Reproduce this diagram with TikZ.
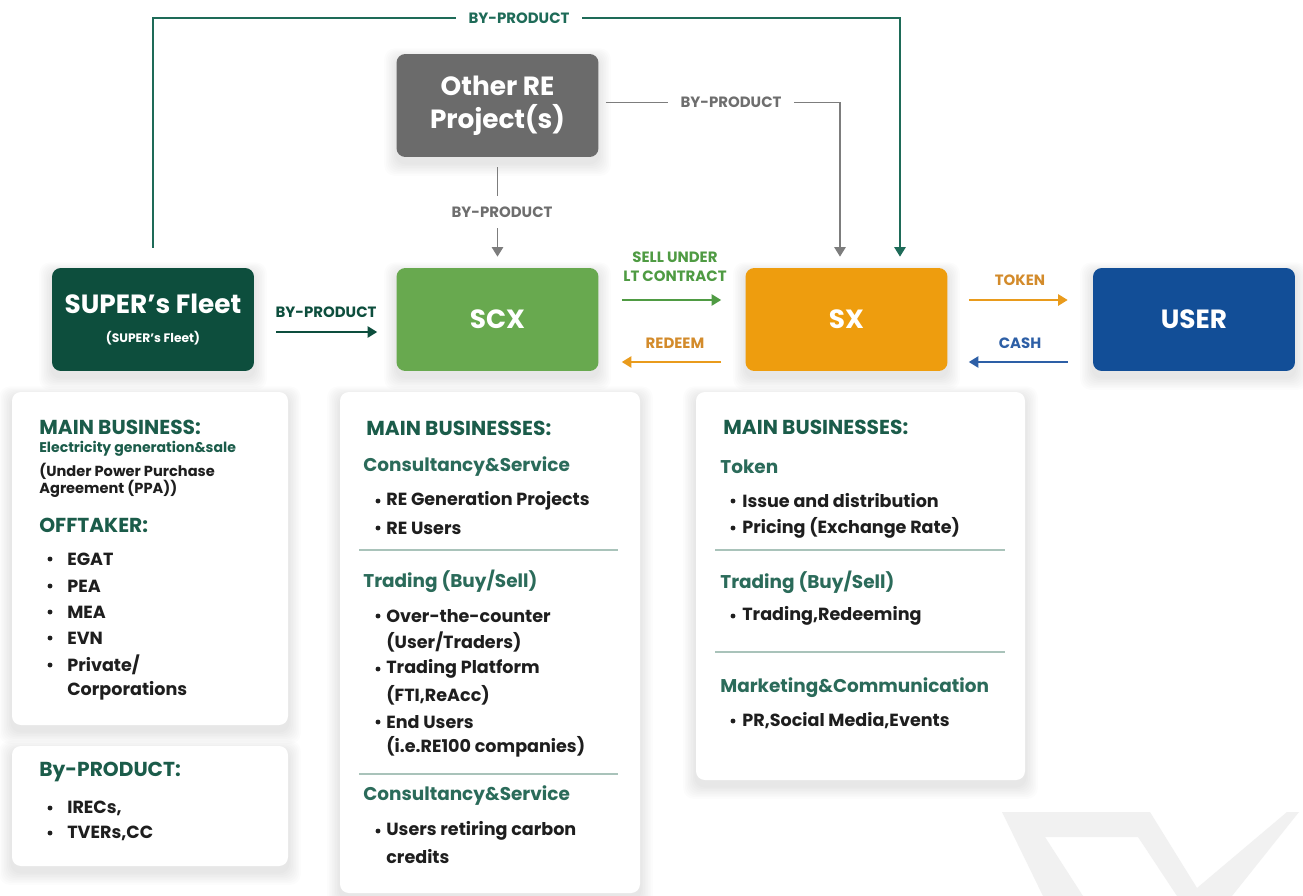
\documentclass[tikz,border=0pt]{standalone}
\usepackage{fontspec}
\setmainfont{Poppins}
\usetikzlibrary{arrows.meta,calc}
\definecolor{hdgreen}{HTML}{1B5C4A}
\definecolor{subgreen}{HTML}{2B6B5A}
\definecolor{itemtext}{HTML}{1E1E1E}
\definecolor{divcol}{HTML}{A9C3BA}
\definecolor{fleetc}{HTML}{0D4E3D}
\definecolor{otherc}{HTML}{6B6B6B}
\definecolor{scxc}{HTML}{68A94F}
\definecolor{sxc}{HTML}{EE9D0E}
\definecolor{userc}{HTML}{124E97}
\definecolor{topline}{HTML}{1E6B58}
\definecolor{grayline}{HTML}{7D7D7D}
\definecolor{graylabel}{HTML}{6E6E6E}
\definecolor{sellgreen}{HTML}{4F9B43}
\definecolor{orangec}{HTML}{E99B1C}
\definecolor{orangelabel}{HTML}{D38B2B}
\definecolor{cashc}{HTML}{2D5FA6}
\definecolor{wmark}{HTML}{F1F1F1}
\tikzset{
 bigbox/.style={rounded corners=5pt, minimum width=4.04cm, minimum height=2.06cm, inner sep=0pt, text=white, align=center, font=\fontsize{15}{19}\selectfont\bfseries},
 cardbox/.style={fill=white, rounded corners=5pt},
 conn/.style={line width=1pt, -{Triangle[width=6.5pt,length=5.5pt]}},
 flabel/.style={font=\fontsize{8.5}{11}\selectfont\bfseries, inner sep=1pt, align=center},
 gaplabel/.style={flabel, fill=white, inner xsep=7pt},
 head/.style={anchor=west, inner sep=0pt, text=hdgreen, font=\fontsize{11.5}{13}\selectfont\bfseries},
 subh/.style={anchor=west, inner sep=0pt, text=subgreen, font=\fontsize{10.5}{12}\selectfont\bfseries},
 item/.style={anchor=west, inner sep=0pt, text=itemtext, font=\fontsize{10}{12}\selectfont\bfseries},
 divider/.style={draw=divcol, line width=0.8pt},
}
\newcommand\bitem[5]{\fill[itemtext] (#1,#3) circle (1.4pt); \node[item] (#5) at (#2,#3) {#4};}
\newcommand\softshadow[4]{\foreach \s in {1,...,8}{\fill[black,opacity=0.012,rounded corners=6pt] (#1-\s*1.6,#2-\s*1.2+4) rectangle (#3+\s*1.6,#4+\s*1.6+6);}}
\begin{document}
\begin{tikzpicture}[x=0.02cm,y=-0.02cm]
\useasboundingbox (0,0) rectangle (1303,896);
\fill[white] (0,0) rectangle (1303,896);

% watermark
\fill[wmark] (1002,812) -- (1150,812) -- (1197,888) -- (1287,812) -- (1299,812) -- (1232,896) -- (1177,896) -- (1138,837) -- (1045,837) -- (1083,896) -- (1043,896) -- cycle;

% shadows
\softshadow{52}{268}{254}{371}
\softshadow{397}{268}{598}{371}
\softshadow{746}{268}{947}{371}
\softshadow{1093}{268}{1295}{371}
\softshadow{397}{54}{598}{157}
\softshadow{12}{392}{288}{725}
\softshadow{12}{746}{288}{866}
\softshadow{340}{392}{640}{893}
\softshadow{696}{392}{1025}{780}

% main boxes
\node[bigbox, fill=otherc] (other) at (497.5,105.5) {Other RE\\Project(s)};
\node[bigbox, fill=fleetc] (fleet) at (153,319.5) {SUPER’s Fleet\\[-3pt]{\fontsize{7}{9}\selectfont(SUPER’s Fleet)}};
\node[bigbox, fill=scxc] (scx) at (497.5,319.5) {SCX};
\node[bigbox, fill=sxc] (sx) at (846.5,319.5) {SX};
\node[bigbox, fill=userc] (user) at (1194,319.5) {USER};

% connectors
\draw[conn, topline, shorten <=0.4cm, shorten >=0.22cm] (fleet.north) -- ($(fleet.north)+(0,-250)$) -| ($(sx.north)+(53.5,0)$);
\node[gaplabel, text=topline] (lbltop) at (519,18) {BY-PRODUCT};

\draw[conn, grayline, shorten <=0.14cm, shorten >=0.22cm] ($(other.east)+(0,-3)$) -| ($(sx.north)+(-6.5,0)$);
\node[gaplabel, text=graylabel] (lblgr1) at (731,102) {BY-PRODUCT};

\draw[conn, grayline, shorten <=0.2cm, shorten >=0.22cm] (other.south) -- (scx.north);
\node[gaplabel, text=graylabel, inner ysep=6pt] (lblgr2) at (502,212) {BY-PRODUCT};

\draw[conn, fleetc, shorten <=0.44cm, shorten >=0.38cm] ($(fleet.east)+(0,12.5)$) -- ($(scx.west)+(0,12.5)$);
\node[flabel, text=fleetc] (lblfleet) at (326,312) {BY-PRODUCT};

\draw[conn, sellgreen, shorten <=0.46cm, shorten >=0.48cm] ($(scx.east)+(0,-19.5)$) -- ($(sx.west)+(0,-19.5)$);
\node[flabel, text=sellgreen] (lblsell) at (675,267) {SELL UNDER\\LT CONTRACT};

\draw[conn, orangec, shorten <=0.48cm, shorten >=0.46cm] ($(sx.west)+(0,42.5)$) -- ($(scx.east)+(0,42.5)$);
\node[flabel, text=orangelabel] (lblredeem) at (675,343) {REDEEM};

\draw[conn, orangec, shorten <=0.42cm, shorten >=0.5cm] ($(sx.east)+(0,-19.5)$) -- ($(user.west)+(0,-19.5)$);
\node[flabel, text=orangelabel] (lbltoken) at (1020,280) {TOKEN};

\draw[conn, cashc, shorten <=0.5cm, shorten >=0.42cm] ($(user.west)+(0,42.5)$) -- ($(sx.east)+(0,42.5)$);
\node[flabel, text=cashc] (lblcash) at (1020,343) {CASH};

% cards
\fill[cardbox] (12,392) rectangle (288,725);
\fill[cardbox] (12,746) rectangle (288,866);
\fill[cardbox] (340,392) rectangle (640,893);
\fill[cardbox] (696,392) rectangle (1025,780);

% card 1
\node[head] (c1h) at (39,427) {MAIN BUSINESS:};
\node[anchor=west, inner sep=0pt, text=hdgreen, font=\fontsize{8}{10}\selectfont\bfseries] (c1s) at (39,449) {Electricity generation\&sale};
\node[anchor=west, inner sep=0pt, text=itemtext, font=\fontsize{8.3}{10}\selectfont\bfseries] (c1p1) at (39,471) {(Under Power Purchase};
\node[anchor=west, inner sep=0pt, text=itemtext, font=\fontsize{8.3}{10}\selectfont\bfseries] (c1p2) at (39,489) {Agreement (PPA))};
\node[head] (c1o) at (39,525) {OFFTAKER:};
\bitem{50}{67}{559}{EGAT}{c1a}
\bitem{50}{67}{586}{PEA}{c1b}
\bitem{50}{67}{612}{MEA}{c1c}
\bitem{50}{67}{638}{EVN}{c1d}
\bitem{50}{67}{665}{Private/}{c1e}
\node[item] (c1f) at (67,691) {Corporations};

% card 2
\node[head] (c2h) at (39,772) {By-PRODUCT:};
\bitem{50}{67}{808}{IRECs,}{c2a}
\bitem{50}{67}{833}{TVERs,CC}{c2b}

% card 3
\node[head] (c3h) at (366,428) {MAIN BUSINESSES:};
\node[subh] (c3s1) at (363,467) {Consultancy\&Service};
\bitem{378}{386}{501}{RE Generation Projects}{c3a}
\bitem{378}{386}{528}{RE Users}{c3b}
\draw[divider] (359,550) -- (618,550);
\node[subh] (c3s2) at (363,581) {Trading (Buy/Sell)};
\bitem{378}{386}{616}{Over-the-counter}{c3c}
\node[item] (c3d) at (386,642) {(User/Traders)};
\bitem{378}{386}{669}{Trading Platform}{c3e}
\node[item] (c3f) at (386,695) {(FTI,ReAcc)};
\bitem{378}{386}{722}{End Users}{c3g}
\node[item] (c3i) at (386,747) {(i.e.RE100 companies)};
\draw[divider] (359,774) -- (618,774);
\node[subh] (c3s3) at (363,796) {Consultancy\&Service};
\bitem{378}{386}{831}{Users retiring carbon}{c3j}
\node[item] (c3k) at (386,857) {credits};

% card 4
\node[head] (c4h) at (723,427) {MAIN BUSINESSES:};
\node[subh] (c4s1) at (720,467) {Token};
\bitem{733}{742}{501}{Issue and distribution}{c4a}
\bitem{733}{742}{528}{Pricing (Exchange Rate)}{c4b}
\draw[divider] (715,550) -- (1005,550);
\node[subh] (c4s2) at (720,582) {Trading (Buy/Sell)};
\bitem{733}{742}{616}{Trading,Redeeming}{c4c}
\draw[divider] (715,652) -- (1005,652);
\node[subh] (c4s3) at (720,688) {Marketing\&Communication};
\bitem{733}{742}{721}{PR,Social Media,Events}{c4d}
\end{tikzpicture}
\end{document}
